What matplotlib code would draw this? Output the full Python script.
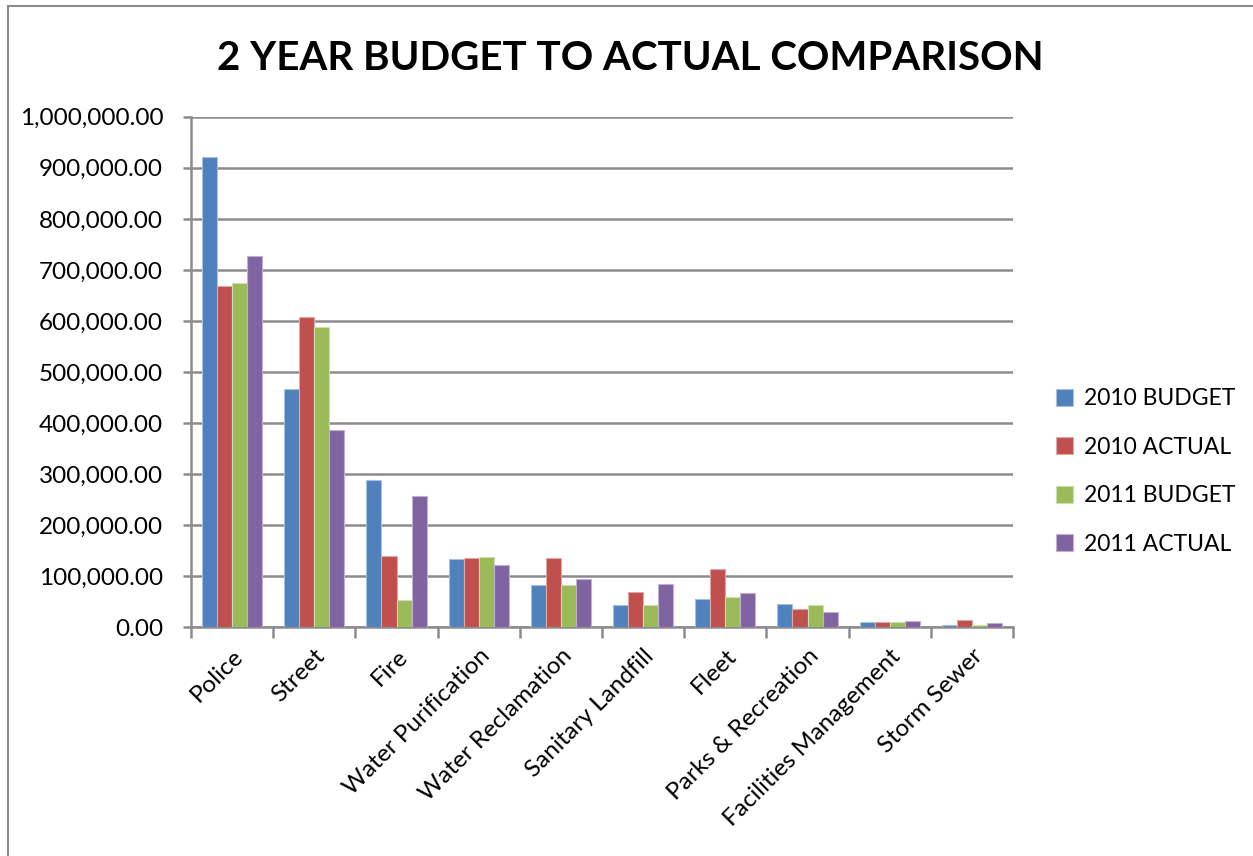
import numpy as np
import matplotlib.pyplot as plt
from matplotlib.lines import Line2D
from matplotlib.ticker import FuncFormatter, MultipleLocator

plt.rcParams['font.family'] = ['Lato', 'DejaVu Sans']

departments = ["Police", "Street", "Fire", "Water Purification", "Water Reclamation",
               "Sanitary Landfill", "Fleet", "Parks & Recreation",
               "Facilities Management", "Storm Sewer"]
series_names = ["2010 BUDGET", "2010 ACTUAL", "2011 BUDGET", "2011 ACTUAL"]

budget_2010 = [922000, 466000, 289000, 134000, 83000, 43000, 56000, 45000, 10500, 4600]
actual_2010 = [668000, 608000, 140000, 136000, 135500, 70000, 114000, 36000, 10500, 14000]
budget_2011 = [674000, 589000, 53000, 138000, 83000, 43000, 59000, 43000, 10500, 4600]
actual_2011 = [728000, 386000, 258000, 122000, 94000, 85500, 68000, 30000, 12500, 9000]

colors = ["#4F81BD", "#C0504D", "#9BBB59", "#8064A2"]
edges = ["#A7C0DE", "#DFA8A6", "#CDDDAC", "#BFB1D0"]

fig = plt.figure(figsize=(12.53, 8.56), dpi=100)
ax = fig.add_axes([191 / 1253, 0.2672, 822 / 1253, 0.5964])

x = np.arange(len(departments))
w = 0.1825
all_series = [budget_2010, actual_2010, budget_2011, actual_2011]
for i, vals in enumerate(all_series):
    ax.bar(x + (i - 1.5) * w, vals, width=w, color=colors[i], edgecolor=edges[i],
           linewidth=0.8, label=series_names[i], zorder=3)

ax.set_xlim(-0.5, len(departments) - 0.5)
ax.set_ylim(0, 1000000)
ax.yaxis.set_major_locator(MultipleLocator(100000))
ax.yaxis.set_major_formatter(FuncFormatter(lambda v, p: f"{v:,.2f}"))
ax.grid(axis='y', color='#8C8C8C', linewidth=1.8, zorder=0)

ax.set_xticks(x)
ax.set_xticklabels(departments, rotation=45, ha='right', rotation_mode='anchor', fontsize=17.5)
ax.set_xticks(np.arange(-0.5, len(departments)), minor=True)
ax.tick_params(axis='x', which='major', length=0, pad=13)
ax.tick_params(axis='x', which='minor', length=8, width=1.8, color='#8C8C8C')
ax.tick_params(axis='y', length=6, width=1.8, color='#8C8C8C', labelsize=17.5, pad=14)

for side in ['top', 'right']:
    ax.spines[side].set_visible(False)
for side in ['left', 'bottom']:
    ax.spines[side].set_color('#8C8C8C')
    ax.spines[side].set_linewidth(1.8)

fig.suptitle("2 YEAR BUDGET TO ACTUAL COMPARISON", x=0.503, y=0.953, fontsize=29,
             fontweight='bold')

ax.legend(loc='center left', bbox_to_anchor=(1.027, 0.305), frameon=False, fontsize=16.5,
          handlelength=0.75, handleheight=0.75, handletextpad=0.5, labelspacing=1.2)

# outer chart frame, only left and top edges fall inside the image
fig.add_artist(Line2D([8 / 1253, 8 / 1253], [0, 1 - 6 / 856], color='#8C8C8C', linewidth=1.5))
fig.add_artist(Line2D([8 / 1253, 1], [1 - 6 / 856, 1 - 6 / 856], color='#8C8C8C', linewidth=1.5))

fig.savefig("out.png", dpi=100, facecolor='white')
